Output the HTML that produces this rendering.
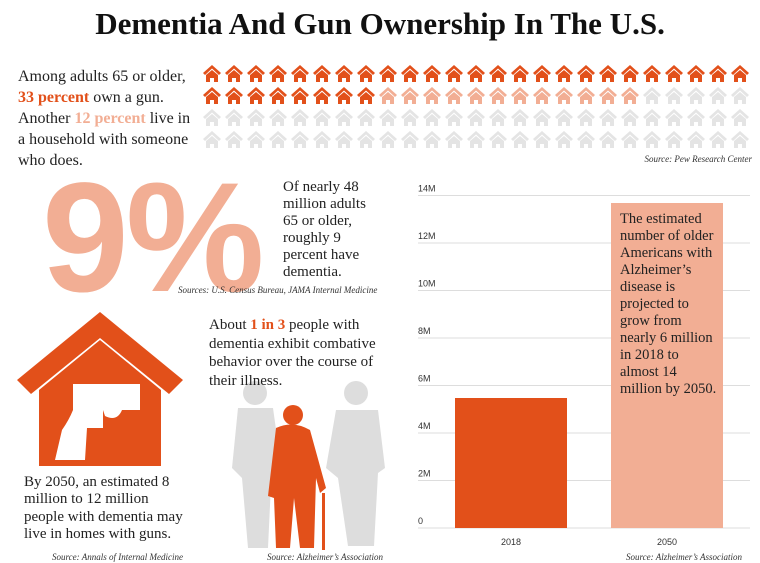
<!DOCTYPE html>
<html><head><meta charset="utf-8"><style>
body{margin:0;width:760px;height:563px;background:#fff;position:relative;overflow:hidden;font-family:"Liberation Serif",serif;color:#222}
.a{position:absolute}
.o{color:#e2501a;font-weight:bold}
.l{color:#f2ae94;font-weight:bold}
.src{font-style:italic;font-size:9px;color:#333;white-space:nowrap}
.n{white-space:nowrap}
</style></head><body>
<svg width="0" height="0" style="position:absolute"><defs>
<g id="h"><path d="M0 9 L9 1 L18 9 L16 11 L9 4.5 L2 11Z"/><path d="M3 11 L9 6 L15 11 V18 H11 V14 H7 V18 H3Z"/></g>
</defs></svg>
<div class="a n" style="left:0;width:760px;top:6px;text-align:center;font-size:31px;font-weight:bold;color:#111">Dementia And Gun Ownership In The U.S.</div>
<div class="a n" style="left:42px;top:160px;font-family:'Liberation Sans',sans-serif;font-weight:bold;font-size:156px;color:#f2ae94;letter-spacing:-3px;line-height:1">9%</div>
<div class="a n" style="left:18px;top:66px;font-size:16px;line-height:21px">Among adults 65 or older,<br><span class="o">33 percent</span> own a gun.<br>Another <span class="l">12 percent</span> live in<br>a household with someone<br>who does.</div>
<svg class="a" style="left:203px;top:64px" width="555" height="90" id="grid"></svg>
<div class="a src" style="right:8px;top:154px">Source: Pew Research Center</div>
<div class="a n" style="left:283px;top:179px;font-size:15px;line-height:17px">Of nearly 48<br>million adults<br>65 or older,<br>roughly 9<br>percent have<br>dementia.</div>
<div class="a src" style="left:178px;top:285px">Sources: U.S. Census Bureau, JAMA Internal Medicine</div>
<svg class="a" style="left:17px;top:310px" width="170" height="160">
<path fill="#e2501a" d="M0 70 L83 2 L166 70 L152 84 L83 28 L14 84Z"/>
<path fill="#e2501a" d="M22 80 L83 30 L144 80 V156 H22Z"/>
<path fill="#fff" d="M56 74 H123 V100 H105 Q100 112 88 106 L86 100 V118 H70 L68 150 H38 L45 120 Q52 110 56 100Z"/>
</svg>
<div class="a n" style="left:24px;top:474px;font-size:15px;line-height:17.3px">By 2050, an estimated 8<br>million to 12 million<br>people with dementia may<br>live in homes with guns.</div>
<div class="a src" style="left:52px;top:552px">Source: Annals of Internal Medicine</div>
<svg class="a" style="left:228px;top:378px" width="160" height="175">
<g fill="#ddd"><circle cx="27" cy="15" r="12"/><path d="M10 30 H45 L52 80 L44 85 L40 170 H20 L14 100 L4 90Z"/>
<circle cx="128" cy="15" r="12"/><path d="M108 32 H150 L157 90 L150 95 L146 168 H120 L110 100 L98 90Z"/></g>
<g fill="#e2501a"><circle cx="65" cy="37" r="10"/><path d="M48 50 Q65 42 82 52 L98 110 L92 115 L88 100 L86 170 H72 L66 120 L62 170 H48 L46 120 L40 118Z"/><rect x="94" y="115" width="3" height="57"/></g>
</svg>
<div class="a n" style="left:209px;top:316px;font-size:15px;line-height:18.5px">About <span class="o">1 in 3</span> people with<br>dementia exhibit combative<br>behavior over the course of<br>their illness.</div>
<div class="a src" style="left:267px;top:552px">Source: Alzheimer’s Association</div>
<svg class="a" style="left:410px;top:185px" width="350" height="365" id="ch"></svg>
<div class="a n" style="left:620px;top:211px;font-size:14.5px;line-height:17px;color:#222">The estimated<br>number of older<br>Americans with<br>Alzheimer’s<br>disease is<br>projected to<br>grow from<br>nearly 6 million<br>in 2018 to<br>almost 14<br>million by 2050.</div>
<div class="a src" style="right:18px;top:552px">Source: Alzheimer’s Association</div>
<script>
var g=document.getElementById('grid'),s='';
for(var r=0;r<4;r++)for(var c=0;c<25;c++){var i=r*25+c;var col=i<33?'#e2501a':(i<45?'#f2ae94':'#e4e4e4');
s+='<use href="#h" x="'+(c*22)+'" y="'+(r*22)+'" fill="'+col+'"/>';}
g.innerHTML=s;
var ch=document.getElementById('ch'),t='';
var labs=['0','2M','4M','6M','8M','10M','12M','14M'];
for(var k=0;k<8;k++){var y=343-k*47.5;t+='<line x1="8" x2="340" y1="'+y+'" y2="'+y+'" stroke="#ddd"/><text x="8" y="'+(y-4)+'" font-family="Liberation Sans" font-size="9" fill="#333">'+labs[k]+'</text>';}
t+='<rect x="45" y="213" width="112" height="130" fill="#e2501a"/><rect x="201" y="18" width="112" height="325" fill="#f2ae94"/>';
t+='<text x="101" y="360" text-anchor="middle" font-family="Liberation Sans" font-size="9" fill="#333">2018</text><text x="257" y="360" text-anchor="middle" font-family="Liberation Sans" font-size="9" fill="#333">2050</text>';
ch.innerHTML=t;
</script>
</body></html>
